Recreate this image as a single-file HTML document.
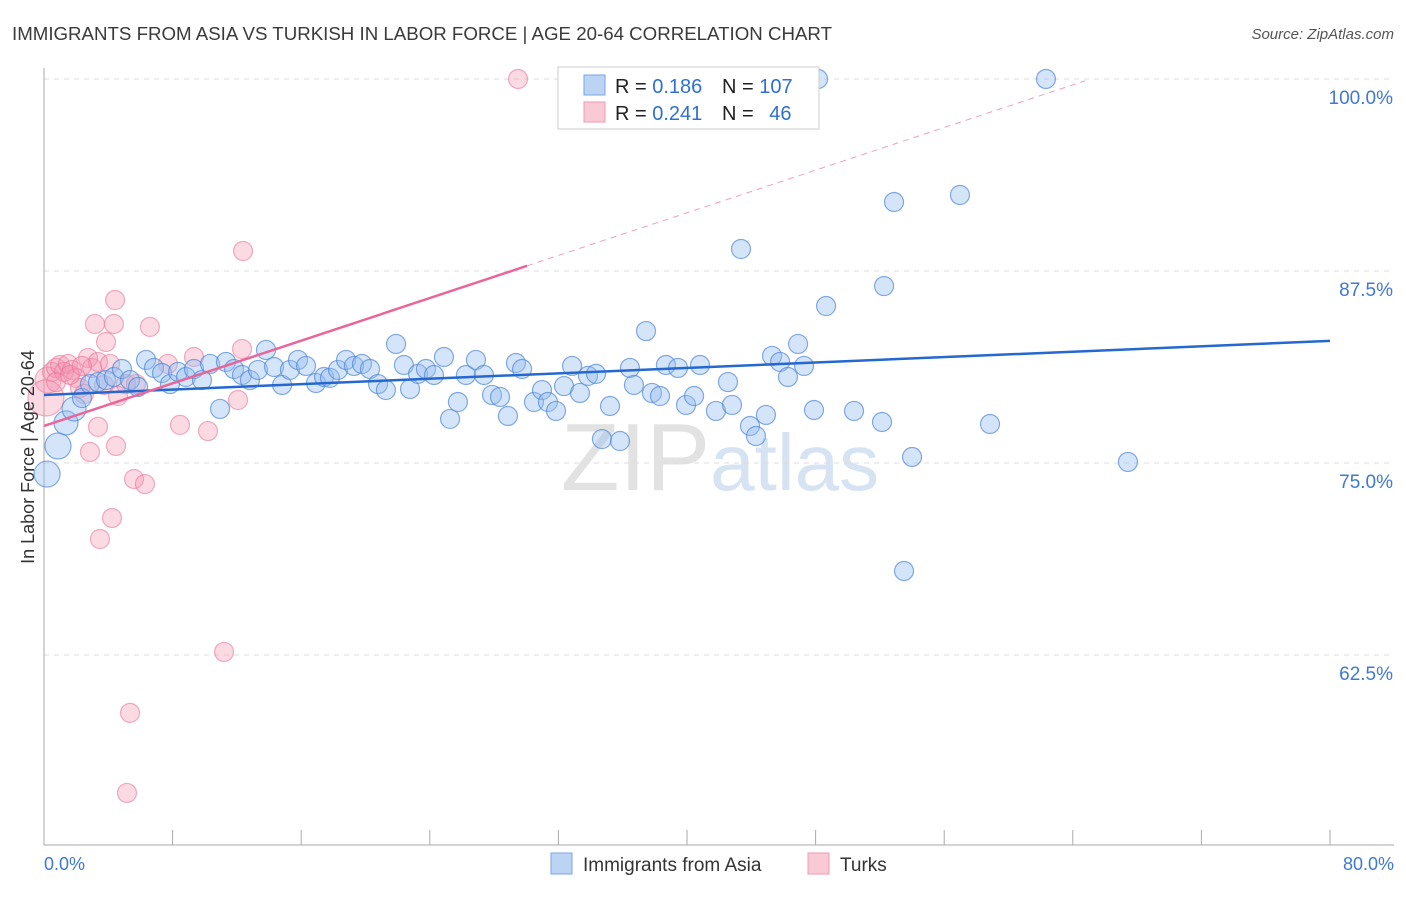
<!DOCTYPE html>
<html><head><meta charset="utf-8"><style>
body{margin:0;background:#fff;font-family:"Liberation Sans",sans-serif}
svg text{font-family:"Liberation Sans",sans-serif}
</style></head><body>
<svg id="chart" width="1406" height="892">
<text x="12" y="40" font-size="18.7" fill="#3a3a3a">IMMIGRANTS FROM ASIA VS TURKISH IN LABOR FORCE | AGE 20-64 CORRELATION CHART</text>
<text x="1394" y="39" font-size="15" fill="#555" text-anchor="end" font-style="italic">Source: ZipAtlas.com</text>
<text x="720" y="490" font-size="96" fill="#e2e2e2" text-anchor="middle" font-family="Liberation Serif">ZIP<tspan fill="#d5e3f3" font-family="Liberation Sans" font-size="80">atlas</tspan></text>
<g id="grid"></g><g id="axes"></g><g id="pts"></g><g id="trend"></g>
<text transform="translate(34,457) rotate(-90)" font-size="18" fill="#333" text-anchor="middle">In Labor Force | Age 20-64</text>
<g>
<rect x="558" y="67" width="261" height="62" fill="#fff" stroke="#ccc"/>
<rect x="584" y="75" width="21" height="20" fill="#bcd4f4" stroke="#7aa6e4"/>
<rect x="584" y="102" width="21" height="20" fill="#f9c9d6" stroke="#ee9ab2"/>
<text x="615" y="93" font-size="20" fill="#222">R = <tspan fill="#2f6fd1">0.186</tspan></text>
<text x="722" y="93" font-size="20" fill="#222">N = <tspan fill="#2f6fd1">107</tspan></text>
<text x="615" y="120" font-size="20" fill="#222">R = <tspan fill="#2f6fd1">0.241</tspan></text>
<text x="722" y="120" font-size="20" fill="#222">N = <tspan fill="#2f6fd1" dx="10">46</tspan></text>
</g>
<g>
<rect x="551" y="853" width="21" height="21" fill="#bcd4f4" stroke="#7aa6e4"/>
<text x="583" y="871" font-size="19" fill="#333">Immigrants from Asia</text>
<rect x="808" y="853" width="21" height="21" fill="#f9c9d6" stroke="#ee9ab2"/>
<text x="840" y="871" font-size="19" fill="#333">Turks</text>
</g>
</svg>
<script>
const yTicks=[100,87.5,75,62.5];
const yTickLabels=["100.0%","87.5%","75.0%","62.5%"];
const xTickLabels=["0.0%","80.0%"];
const asiaX=[0.19,0.87,1.37,1.87,2.36,2.86,3.36,3.86,4.35,4.85,5.35,5.85,6.35,6.84,7.34,7.84,8.34,8.83,9.33,9.83,10.33,10.95,11.32,11.82,12.32,12.81,13.31,13.81,14.31,14.81,15.30,15.80,16.30,16.92,17.42,17.79,18.29,18.79,19.28,19.78,20.28,20.78,21.27,21.90,22.39,22.77,23.27,23.76,24.26,24.88,25.26,25.75,26.25,26.87,27.37,27.87,28.37,28.86,29.36,29.74,30.48,30.98,31.35,31.85,32.35,32.85,33.34,33.84,34.34,34.71,35.21,35.83,36.45,36.70,37.45,37.82,38.32,38.69,39.44,39.94,40.44,40.81,41.80,42.55,42.80,43.92,44.29,44.91,45.29,45.79,46.28,46.91,47.28,47.90,48.65,50.39,48.15,52.26,52.13,52.88,54.00,53.50,56.98,58.85,62.33,67.43,43.36];
const asiaY=[74.28,76.11,77.61,78.52,79.23,80.14,80.27,80.40,80.60,81.12,80.40,79.95,81.71,81.19,80.86,80.14,80.93,80.60,81.12,80.40,81.45,78.52,81.58,81.12,80.73,80.40,81.06,82.36,81.25,80.08,81.06,81.71,81.32,80.21,80.60,80.54,81.06,81.71,81.32,81.45,81.12,80.14,79.75,82.75,81.38,79.82,80.80,81.12,80.73,81.90,77.87,78.97,80.73,81.71,80.73,79.43,79.30,78.06,81.51,81.12,78.97,79.75,78.97,78.39,80.01,81.32,79.56,80.67,80.80,76.56,78.71,76.43,81.19,80.08,83.59,79.56,79.36,81.38,81.19,78.78,79.36,81.38,78.39,80.27,78.78,77.41,76.76,78.13,81.97,81.58,80.60,82.75,81.32,78.45,85.22,78.39,100,86.52,77.67,91.99,75.39,67.97,92.45,77.54,100,75.07,88.93];
const turkX=[29.49,12.38,4.42,3.17,4.35,6.59,3.86,12.32,0.25,0.50,0.75,1.00,1.24,1.49,1.74,1.99,2.24,2.49,2.74,2.99,3.36,3.73,4.11,4.60,5.10,5.72,7.71,9.33,8.46,10.20,12.07,3.36,2.86,4.48,5.60,6.28,4.23,3.48,11.20,5.35,5.16,0.12,0.75,1.62,2.36];
const turkY=[100,88.80,85.61,84.05,84.05,83.86,82.88,82.42,80.40,80.93,81.19,81.38,80.93,81.45,81.06,80.54,79.88,79.49,81.84,81.19,81.58,80.08,81.45,79.36,80.14,80.14,81.45,81.90,77.48,77.08,79.10,77.35,75.72,76.11,73.96,73.63,71.42,70.05,62.70,58.73,53.52,79.23,80.27,80.73,81.32];
const asiaTrend=[79.43,82.95];
const turkTrend=[77.41,0.347];
const NS="http://www.w3.org/2000/svg";
const X=v=>44+v*16.075, Y=v=>79+(100-v)*15.36;
function mk(p,t,a){const e=document.createElementNS(NS,t);for(const k in a)e.setAttribute(k,a[k]);p.appendChild(e);return e;}
const grid=document.getElementById('grid'),axes=document.getElementById('axes'),pts=document.getElementById('pts'),tr=document.getElementById('trend');
yTicks.forEach((v,i)=>{
 const l=mk(grid,'line',{x1:44,x2:1394,y1:Y(v),y2:Y(v),stroke:'#ddd','stroke-dasharray':'5,5'});
 
 
 const t=mk(axes,'text',{x:1393,y:Y(v)+25,'font-size':19,fill:'#3f78d6','text-anchor':'end'});t.textContent=yTickLabels[i];
 
 
});
const ax=mk(axes,'line',{x1:44,x2:1394,y1:845,y2:845,stroke:'#aaa'});


const ay=mk(axes,'line',{x1:44,x2:44,y1:68,y2:845,stroke:'#aaa'});


for(let i=0;i<=10;i++){const t=mk(axes,'line',{x1:X(i*8),x2:X(i*8),y1:830,y2:845,stroke:'#aaa'});
 
 }
[[0,'start',44],[80,'end',1394]].forEach((d,i)=>{const t=mk(axes,'text',{x:d[2],y:870,'font-size':18,fill:'#3f78d6','text-anchor':d[1]});t.textContent=xTickLabels[i];
 
 });
turkX.forEach((x,i)=>{const r=i==41?18:(i==8?13:9.5);
 const c=mk(pts,'circle',{cx:X(x),cy:Y(turkY[i]),r:r,fill:'rgba(244,150,178,0.35)',stroke:'rgba(232,120,155,0.6)','stroke-width':1.2});
 
 });
asiaX.forEach((x,i)=>{const r=i<2?13:(i<4?12:9.5);
 const c=mk(pts,'circle',{cx:X(x),cy:Y(asiaY[i]),r:r,fill:'rgba(150,190,240,0.4)',stroke:'rgba(80,135,215,0.7)','stroke-width':1.2});
 
 });
const bl=mk(tr,'line',{x1:X(0),y1:Y(asiaTrend[0]),x2:X(80),y2:Y(asiaTrend[1]),stroke:'#2468d0','stroke-width':2.5});


const pe=30.05, pd=64.76;
const pl=mk(tr,'line',{x1:X(0),y1:Y(turkTrend[0]),x2:X(pe),y2:Y(turkTrend[0]+turkTrend[1]*pe),stroke:'#e8669a','stroke-width':2.5});


const pdl=mk(tr,'line',{x1:X(pe),y1:Y(turkTrend[0]+turkTrend[1]*pe),x2:X(pd),y2:Y(turkTrend[0]+turkTrend[1]*pd),stroke:'#eea0bd','stroke-width':1,'stroke-dasharray':'6,5'});


</script>
</body></html>
